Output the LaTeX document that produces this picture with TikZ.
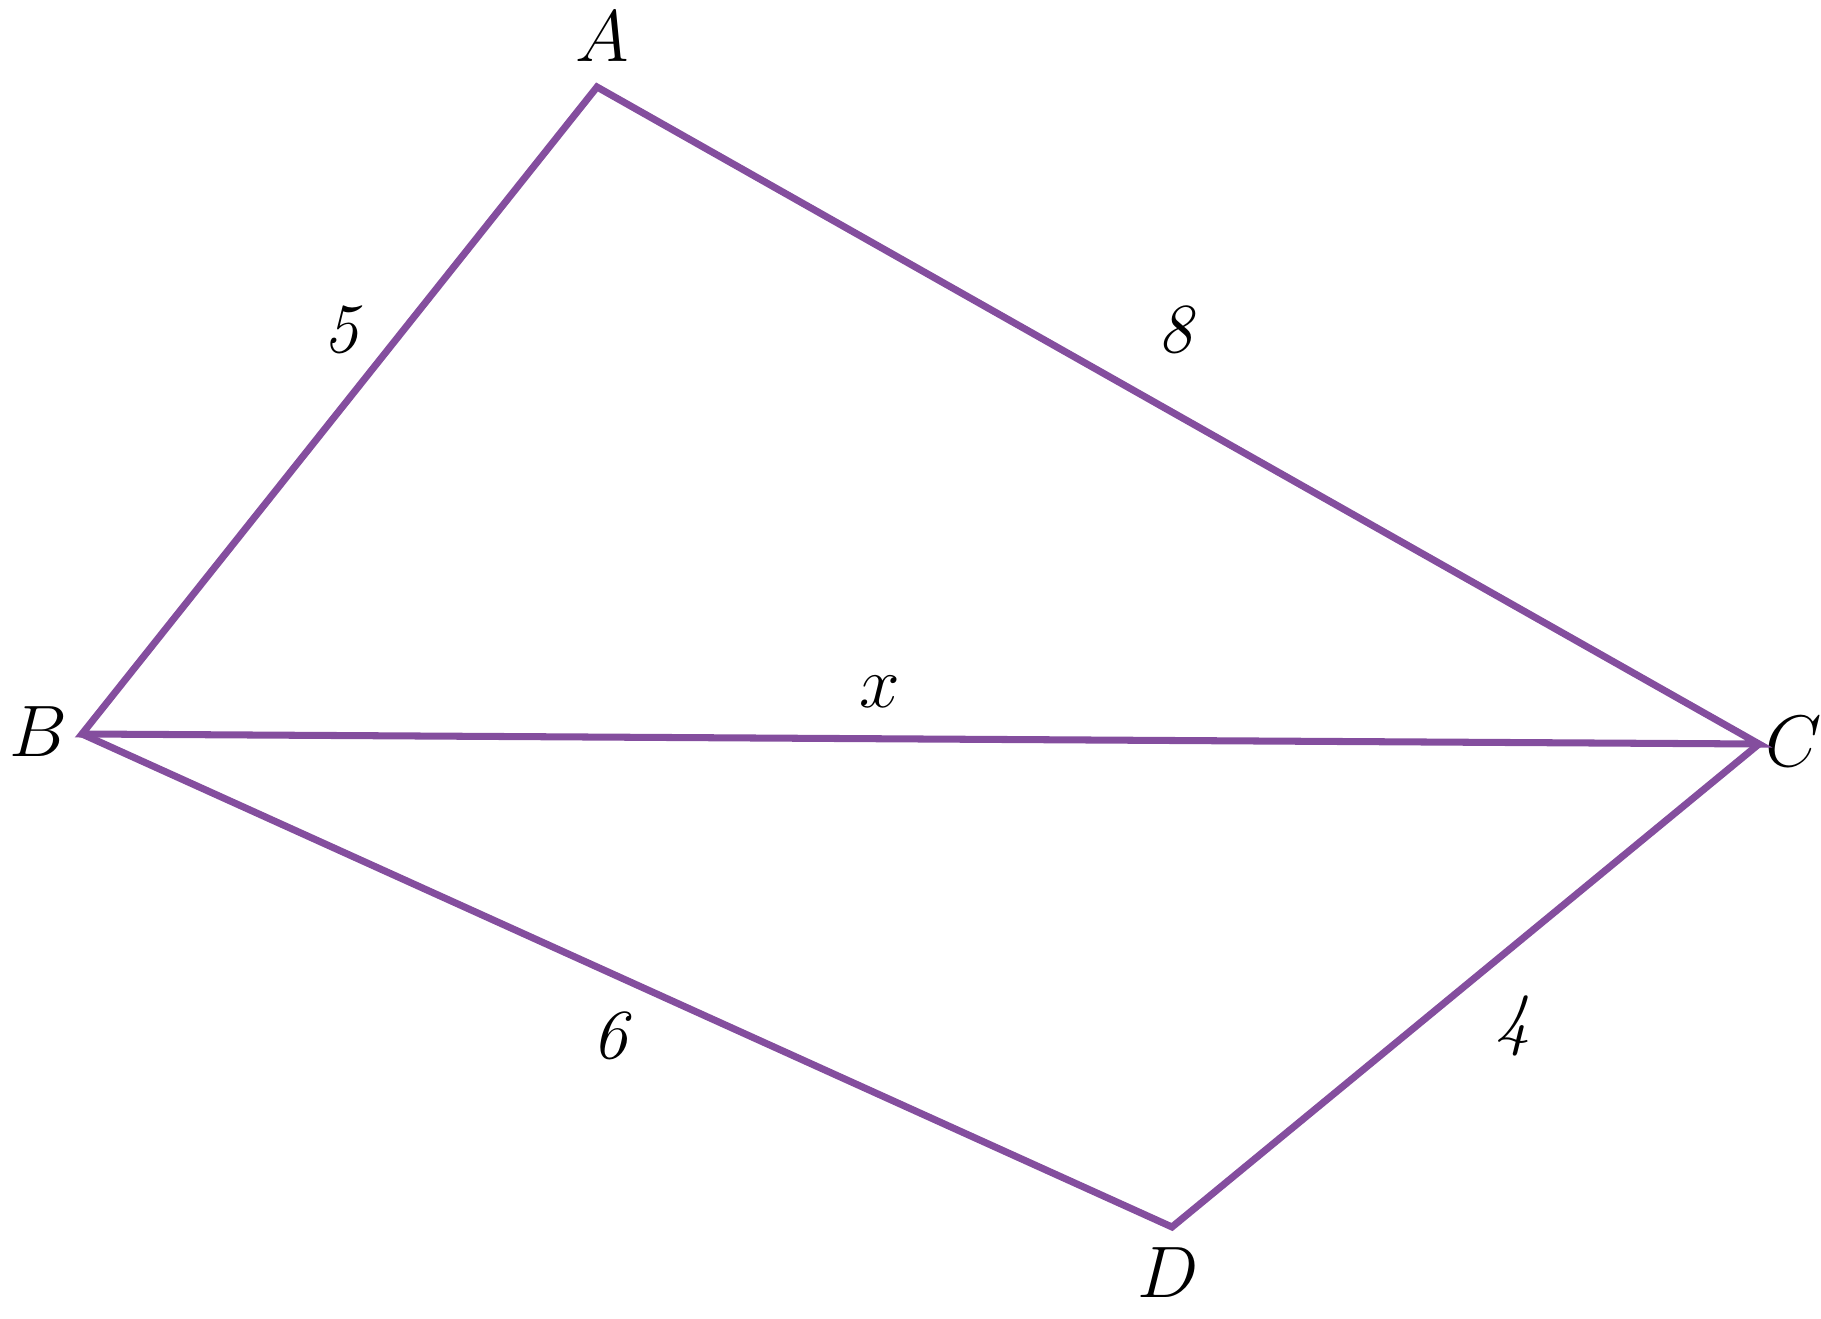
\documentclass[tikz,border=0pt]{standalone}
\definecolor{edgepurple}{RGB}{132,78,158}
\tikzset{
  side/.style={draw=edgepurple,line width=2pt},
  vlabel/.style={font=\fontsize{21}{25}\selectfont\itshape},
  slabel/.style={font=\fontsize{20}{24}\selectfont\itshape}
}
\begin{document}
\begin{tikzpicture}[x=0.01cm,y=-0.01cm]
    \useasboundingbox (0,0) rectangle (1821,1319);
    \coordinate (A) at (597,87);
    \coordinate (B) at (82,734);
    \coordinate (C) at (1759,744);
    \coordinate (D) at (1172,1227);

    \node[vlabel] (Alabel) at (602,37){$A$};
    \node[vlabel] (Blabel) at (38,732){$B$};
    \node[vlabel] (Clabel) at (1794,742){$C$};
    \node[vlabel] (Dlabel) at (1168,1273){$D$};

    \draw[side] (A) -- (B) -- (C) -- cycle;
    \draw[side] (B) -- (D) -- (C);

    \node[slabel] (AB) at (341,330){5};
    \node[slabel] (AC) at (1175,330){8};
    \node[slabel] (BC) at (880,692){$x$};
    \node[slabel] (BD) at (610,1036){6};
    \node[slabel] (CD) at (1513,1026){4};
\end{tikzpicture}
\end{document}
